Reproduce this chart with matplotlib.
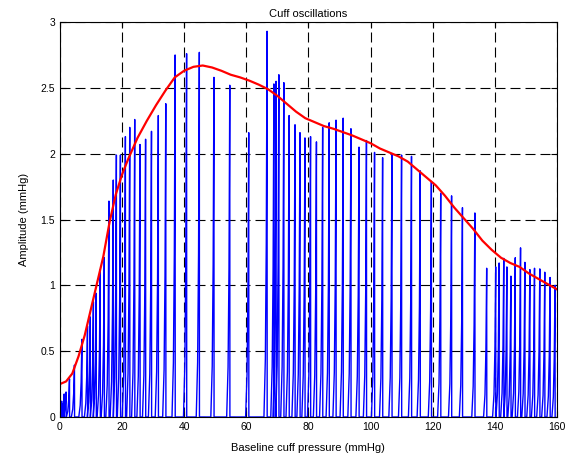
import numpy as np
import matplotlib.pyplot as plt

plt.rcParams['font.family'] = ['Liberation Sans', 'DejaVu Sans']

# oscillation peaks: baseline cuff pressure (mmHg) and amplitude (mmHg)
peak_p = [0.2, 0.4, 0.6, 0.8, 1.0, 1.4, 2.0, 3.1, 4.7, 7.1, 8.9, 9.8, 10.8, 11.7,
          13.0, 14.3, 15.8, 17.2, 18.2, 19.5, 21.1, 22.5, 24.1, 25.8, 27.6, 29.5,
          31.7, 34.1, 37.1, 40.8, 44.9, 49.6, 54.7, 60.8, 66.7, 68.9, 69.6, 70.5,
          72.1, 73.8, 75.7, 77.3, 78.9, 80.7, 82.6, 84.6, 86.7, 88.9, 91.2, 93.7,
          96.3, 98.7, 101.3, 103.9, 106.9, 110.0, 113.2, 116.0, 119.6, 122.6,
          126.1, 129.6, 133.6, 137.4, 140.3, 141.4, 142.9, 143.9, 145.2, 146.6,
          148.3, 149.7, 151.3, 152.8, 154.5, 156.1, 157.8, 159.4]
peak_a = [0.06, 0.09, 0.12, 0.08, 0.10, 0.175, 0.19, 0.29, 0.395, 0.59, 0.69, 0.76,
          0.875, 0.94, 1.12, 1.21, 1.64, 1.80, 1.99, 1.99, 2.13, 2.20, 2.26, 2.07,
          2.11, 2.17, 2.29, 2.38, 2.75, 2.76, 2.77, 2.58, 2.52, 2.16, 2.93, 2.53,
          2.55, 2.60, 2.54, 2.29, 2.22, 2.16, 2.12, 2.13, 2.09, 2.20, 2.235, 2.255,
          2.27, 2.19, 2.05, 2.10, 2.01, 1.97, 2.00, 1.99, 1.98, 1.87, 1.79, 1.70,
          1.68, 1.59, 1.55, 1.13, 1.14, 1.17, 1.205, 1.14, 1.07, 1.21, 1.285,
          1.175, 1.12, 1.13, 1.125, 1.10, 1.06, 1.00]

# fitted envelope
env_p = [0, 2, 4, 6, 8, 10, 12, 14, 16, 18, 20, 22, 25, 28, 31, 34, 37, 40, 43, 46,
         49, 52, 55, 58, 61, 64, 67, 70, 73, 76, 79, 82, 85, 88, 91, 94, 97, 100,
         103, 106, 109, 112, 115, 118, 121, 124, 127, 130, 133, 136, 139, 142, 145,
         148, 151, 154, 157, 160]
env_a = [0.25, 0.27, 0.33, 0.46, 0.62, 0.82, 1.02, 1.22, 1.48, 1.69, 1.84, 1.96,
         2.12, 2.25, 2.37, 2.48, 2.58, 2.63, 2.66, 2.67, 2.655, 2.63, 2.60, 2.58,
         2.555, 2.525, 2.49, 2.44, 2.38, 2.32, 2.27, 2.24, 2.21, 2.19, 2.165, 2.14,
         2.11, 2.08, 2.04, 2.01, 1.98, 1.94, 1.88, 1.82, 1.76, 1.68, 1.59, 1.51,
         1.43, 1.34, 1.27, 1.21, 1.17, 1.14, 1.09, 1.05, 1.01, 0.97]

# each beat: slow tail on the low-pressure side, sharp edge on the high side
w = 1.0
tail = [(-1.0, 0.0), (-0.55, 0.15), (-0.25, 0.45), (-0.08, 0.85), (0.0, 1.0), (0.04, 0.0)]
xs, ys = [], []
for p, a in zip(peak_p, peak_a):
    for dx, f in tail:
        xs.append(p + dx * w)
        ys.append(a * f)

fig = plt.figure(figsize=(5.7, 4.55), dpi=100)
ax = fig.add_axes([0.105, 0.0835, 0.872, 0.868])
ax.plot(xs, ys, color='blue', lw=1.0)
ax.plot(env_p, env_a, color='red', lw=1.6)

ax.set_xlim(0, 160)
ax.set_ylim(0, 3)
ax.set_xticks(np.arange(0, 161, 20))
ax.set_yticks(np.arange(0, 3.01, 0.5))
ax.set_yticklabels(['0', '0.5', '1', '1.5', '2', '2.5', '3'])
ax.grid(True, color='black', linestyle=(0, (9, 4.5)), linewidth=0.8)
ax.tick_params(direction='in', top=True, right=True, labelsize=7.5, length=4)
for s in ax.spines.values():
    s.set_linewidth(0.8)

ax.set_title("Cuff oscillations", fontsize=8, pad=4)
ax.set_xlabel("Baseline cuff pressure (mmHg)", fontsize=8, labelpad=8)
ax.set_ylabel("Amplitude (mmHg)", fontsize=8, labelpad=8)

plt.savefig("out.png", dpi=100)
plt.close()
